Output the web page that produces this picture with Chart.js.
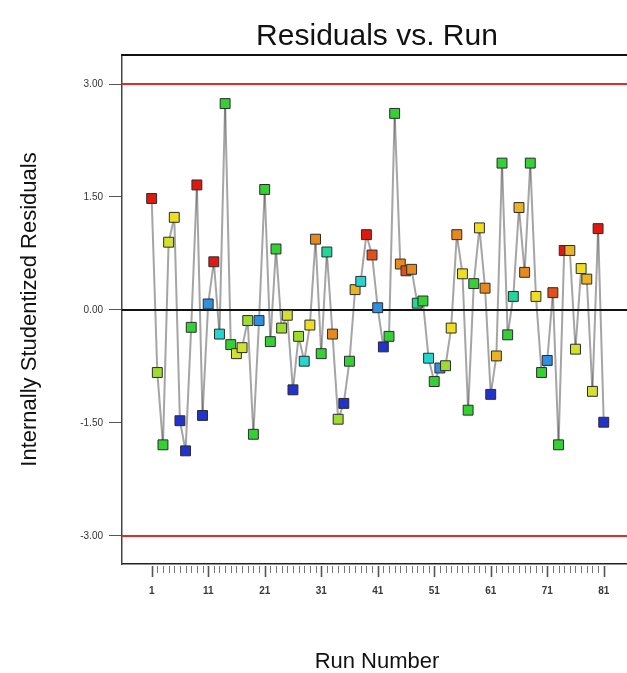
<!DOCTYPE html>
<html>
<head>
<meta charset="utf-8">
<script src="https://cdn.jsdelivr.net/npm/chart.js@4.4.1/dist/chart.umd.min.js"></script>
<style>
  html, body { margin: 0; padding: 0; background: #ffffff; overflow: hidden; }
  #wrap { width: 627px; height: 673px; overflow: hidden; }
  #chart { display: block; }
</style>
</head>
<body>
<div id="wrap"><canvas id="chart" width="640" height="673"></canvas></div>
<script>
// Run order of the experiment
const runNumbers = [
  1, 2, 3, 4, 5, 6, 7, 8, 9, 10,
  11, 12, 13, 14, 15, 16, 17, 18, 19, 20,
  21, 22, 23, 24, 25, 26, 27, 28, 29, 30,
  31, 32, 33, 34, 35, 36, 37, 38, 39, 40,
  41, 42, 43, 44, 45, 46, 47, 48, 49, 50,
  51, 52, 53, 54, 55, 56, 57, 58, 59, 60,
  61, 62, 63, 64, 65, 66, 67, 68, 69, 70,
  71, 72, 73, 74, 75, 76, 77, 78, 79, 80,
  81
];

// Internally studentized residual for each run
const residuals = [
  1.48, -0.83, -1.79, 0.90, 1.23, -1.47, -1.87, -0.23, 1.66, -1.40,
  0.08, 0.64, -0.32, 2.74, -0.46, -0.58, -0.50, -0.14, -1.65, -0.14,
  1.60, -0.42, 0.81, -0.24, -0.07, -1.06, -0.35, -0.68, -0.20, 0.94,
  -0.58, 0.77, -0.32, -1.45, -1.24, -0.68, 0.27, 0.38, 1.00, 0.73,
  0.03, -0.49, -0.35, 2.61, 0.61, 0.52, 0.54, 0.09, 0.12, -0.64,
  -0.95, -0.77, -0.74, -0.24, 1.00, 0.48, -1.33, 0.35, 1.09, 0.29,
  -1.12, -0.61, 1.95, -0.33, 0.18, 1.36, 0.50, 1.95, 0.18, -0.83,
  -0.67, 0.23, -1.79, 0.79, 0.79, -0.52, 0.55, 0.41, -1.08, 1.08,
  -1.49
];

// Colour-coding level of each run (0 = lowest, 11 = highest)
const colourLevel = [
  11, 5, 4, 6, 7, 0, 0, 4, 11, 0,
  1, 11, 2, 4, 4, 6, 6, 5, 4, 1,
  4, 4, 4, 5, 6, 0, 5, 2, 7, 9,
  4, 3, 9, 5, 0, 4, 8, 2, 11, 10,
  1, 0, 4, 4, 9, 10, 9, 3, 4, 2,
  4, 1, 5, 7, 9, 7, 4, 4, 7, 9,
  0, 8, 4, 4, 3, 8, 9, 4, 7, 4,
  1, 10, 4, 11, 8, 6, 7, 8, 6, 11,
  0
];

const yTickValues = [-3.00, -1.50, 0.00, 1.50, 3.00];
const xTickLabels = [1, 11, 21, 31, 41, 51, 61, 71, 81];
const upperLimit = 3.00;
const lowerLimit = -3.00;
const centreLine = 0.00;

// Axis ranges
const X_MIN = -4.25, X_MAX = 86.0;
const Y_MIN = -3.372, Y_MAX = 3.385;

const palette = [
  '#2233cc', '#2f8fe0', '#25d5d0', '#22d59a', '#35d035', '#9fdc30',
  '#d2e030', '#eedd22', '#e8b424', '#e68a1e', '#e0501a', '#dd1a10'
];

const points = runNumbers.map((r, i) => ({ x: r, y: residuals[i] }));
const hLine = v => [{ x: X_MIN, y: v }, { x: X_MAX, y: v }];

Chart.defaults.font.family = "'Liberation Sans', Arial, Helvetica, sans-serif";

// Top edge of the plot frame and the run-number tick marks below the frame
const frameAndRunTicks = {
  id: 'frameAndRunTicks',
  afterDraw(chart) {
    const { ctx, chartArea } = chart;
    const xs = chart.scales.x;
    ctx.save();
    ctx.strokeStyle = '#111';
    ctx.lineWidth = 2;
    ctx.beginPath();
    ctx.moveTo(chartArea.left - 0.75, chartArea.top);
    ctx.lineTo(chartArea.right, chartArea.top);
    ctx.stroke();

    const y0 = chartArea.bottom + 2;
    runNumbers.forEach(r => {
      const major = xTickLabels.includes(r);
      const px = Math.round(xs.getPixelForValue(r)) + 0.5;
      ctx.strokeStyle = major ? '#555' : '#777';
      ctx.lineWidth = major ? 1.6 : 1;
      ctx.beginPath();
      ctx.moveTo(px, y0);
      ctx.lineTo(px, y0 + (major ? 11 : 7));
      ctx.stroke();
    });
    ctx.restore();
  }
};

// Each connecting segment is stroked on its own so that overlapping
// segments near sharp peaks build up darker.
const pathColourA = 'rgba(40,40,40,0.42)';
const pathColourB = 'rgba(40,40,40,0.421)';

new Chart(document.getElementById('chart'), {
  type: 'scatter',
  data: {
    datasets: [
      {
        label: 'Residuals',
        data: points,
        showLine: false,
        pointStyle: 'rect',
        pointRadius: 7,
        pointBackgroundColor: colourLevel.map(l => palette[l]),
        pointBorderColor: '#2b2b2b',
        pointBorderWidth: 1,
        order: 0
      },
      {
        label: 'Centre',
        data: hLine(centreLine),
        showLine: true,
        borderColor: '#111111',
        borderWidth: 2,
        pointRadius: 0,
        order: 1
      },
      {
        label: 'Run path',
        data: points,
        showLine: true,
        borderColor: pathColourA,
        borderWidth: 2,
        pointRadius: 0,
        tension: 0,
        segment: {
          borderColor: c => (c.p0DataIndex % 2 ? pathColourA : pathColourB)
        },
        order: 2
      },
      {
        label: 'Upper limit',
        data: hLine(upperLimit),
        showLine: true,
        borderColor: '#e52a2a',
        borderWidth: 2,
        pointRadius: 0,
        order: 3
      },
      {
        label: 'Lower limit',
        data: hLine(lowerLimit),
        showLine: true,
        borderColor: '#e52a2a',
        borderWidth: 2,
        pointRadius: 0,
        order: 3
      }
    ]
  },
  options: {
    responsive: false,
    animation: false,
    devicePixelRatio: 1,
    layout: { padding: 0 },
    plugins: {
      legend: { display: false },
      tooltip: { enabled: false },
      title: {
        display: true,
        text: 'Residuals vs. Run',
        fullSize: false,
        color: '#111',
        font: { size: 30, weight: 'normal' },
        padding: { top: 19, bottom: 0 }
      }
    },
    scales: {
      x: {
        type: 'linear',
        position: 'bottom',
        min: X_MIN,
        max: X_MAX,
        afterBuildTicks: s => { s.ticks = xTickLabels.map(v => ({ value: v })); },
        afterFit: s => { s.height = 109; s.paddingLeft = 0; s.paddingRight = 0; },
        ticks: {
          autoSkip: false,
          maxRotation: 0,
          padding: 21,
          color: '#3a3a3a',
          font: { size: 10, weight: 'bold' },
          callback: v => String(v)
        },
        grid: { display: false, drawTicks: false },
        border: { display: true, color: '#222', width: 1.5 },
        title: {
          display: true,
          text: 'Run Number',
          color: '#111',
          font: { size: 22 },
          padding: { top: 0, bottom: -2 }
        }
      },
      y: {
        type: 'linear',
        position: 'left',
        min: Y_MIN,
        max: Y_MAX,
        afterBuildTicks: s => { s.ticks = yTickValues.map(v => ({ value: v })); },
        afterFit: s => { s.width = 122; s.paddingTop = 0; s.paddingBottom = 0; },
        ticks: {
          padding: 6,
          color: '#333',
          font: { size: 10 },
          callback: v => Number(v).toFixed(2)
        },
        grid: {
          display: true,
          drawOnChartArea: false,
          drawTicks: true,
          tickLength: 13,
          tickColor: '#555',
          lineWidth: 1
        },
        border: { display: true, color: '#444', width: 1.5 },
        title: {
          display: true,
          text: 'Internally Studentized Residuals',
          color: '#111',
          font: { size: 22 },
          padding: { top: 17, bottom: 0 }
        }
      }
    }
  },
  plugins: [frameAndRunTicks]
});
</script>
</body>
</html>
